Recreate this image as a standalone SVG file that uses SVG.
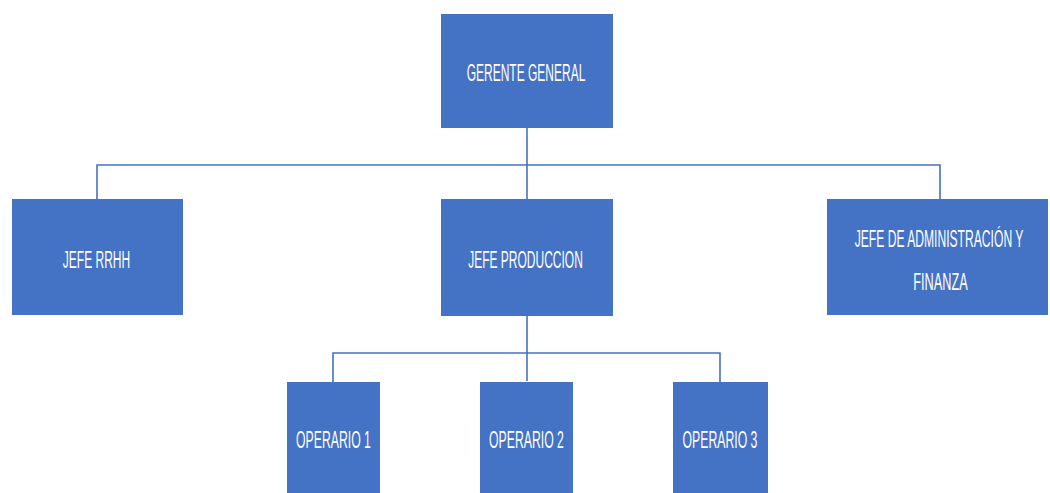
<svg xmlns="http://www.w3.org/2000/svg" width="1050" height="493" viewBox="0 0 1050 493">
  <style>
    .box { fill: #4472C4; }
    .lbl { fill: #FFFFFF; font-family: "Liberation Sans", Arial, sans-serif; font-size: 24px; text-anchor: middle; }
    .conn { stroke: #4472C4; stroke-width: 1.6; fill: none; }
  </style>
  <rect width="1050" height="493" fill="#FFFFFF"/>

  <!-- connectors: elbow lines from each parent to its children -->
  <g id="connectors">
    <path class="conn" d="M527 128 V199"/>
    <path class="conn" d="M97 199 V165 H940 V199"/>
    <path class="conn" d="M527 316 V381"/>
    <path class="conn" d="M333 382 V353 H720 V382"/>
  </g>

  <!-- labels are set in a condensed style by scaling horizontally -->
  <g id="gerente-general">
    <rect class="box" x="441" y="14" width="172" height="114"/>
    <text class="lbl" transform="translate(526 81) scale(0.5 1)">GERENTE GENERAL</text>
  </g>

  <g id="jefe-rrhh">
    <rect class="box" x="12" y="199" width="171" height="116"/>
    <text class="lbl" transform="translate(96.5 268) scale(0.5 1)">JEFE RRHH</text>
  </g>

  <g id="jefe-produccion">
    <rect class="box" x="441" y="199" width="172" height="117"/>
    <text class="lbl" transform="translate(525.5 268) scale(0.5 1)">JEFE PRODUCCION</text>
  </g>

  <g id="jefe-administracion">
    <rect class="box" x="827" y="199" width="221" height="116"/>
    <text class="lbl" transform="translate(939 247) scale(0.505 1)">JEFE DE ADMINISTRACIÓN Y</text>
    <text class="lbl" transform="translate(940.5 290) scale(0.53 1)">FINANZA</text>
  </g>

  <g id="operario-1">
    <rect class="box" x="287" y="382" width="93" height="115"/>
    <text class="lbl" transform="translate(333.5 448) scale(0.51 1)">OPERARIO 1</text>
  </g>

  <g id="operario-2">
    <rect class="box" x="480" y="382" width="93" height="115"/>
    <text class="lbl" transform="translate(526.5 448) scale(0.51 1)">OPERARIO 2</text>
  </g>

  <g id="operario-3">
    <rect class="box" x="673" y="382" width="95" height="115"/>
    <text class="lbl" transform="translate(720 448) scale(0.51 1)">OPERARIO 3</text>
  </g>
</svg>
